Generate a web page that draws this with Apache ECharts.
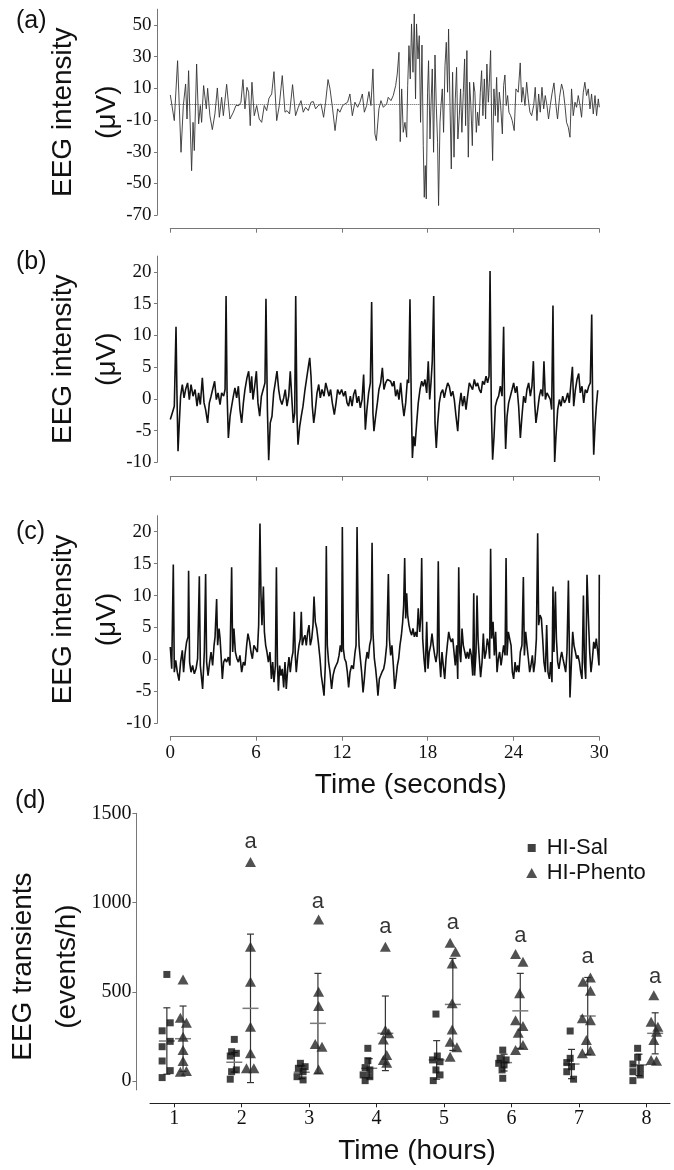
<!DOCTYPE html>
<html><head><meta charset="utf-8">
<script src="https://cdn.jsdelivr.net/npm/echarts@6/dist/echarts.min.js"></script>
<style>html,body{margin:0;padding:0;background:#fff}#chart{width:674px;height:1170px}</style>
</head><body><div id="chart"></div>
<script>
// ---------- DATA ----------
// Panel (a): EEG trace, [time (s), intensity (µV)]
const traceA = [
[0.00,5.9],[0.28,-10.3],[0.51,27.5],[0.63,27.5],[0.75,-30.3],[0.91,-0.8],[1.07,12.8],[1.17,-9.3],[1.28,21.2],[1.49,-41.9],[1.59,-11.4],[1.68,-29.2],[1.84,25.4],[1.98,-12.4],[2.10,-0.8],[2.19,-11.4],[2.33,11.8],[2.42,12.2],[2.52,-2.9],[2.61,10.1],[2.77,-7.2],[2.94,-16.0],[3.12,-6.1],[3.29,10.3],[3.43,-8.2],[3.59,4.4],[3.71,-7.2],[3.94,12.6],[4.17,-9.3],[4.41,-5.0],[4.59,-0.8],[4.80,-0.8],[4.94,1.3],[5.08,15.6],[5.22,-2.9],[5.36,10.7],[5.48,7.6],[5.59,-13.5],[5.71,13.9],[5.87,-7.2],[6.04,-0.8],[6.22,-9.3],[6.39,-11.4],[6.57,-0.8],[6.74,-4.0],[6.90,3.8],[7.09,6.5],[7.25,20.6],[7.44,-10.3],[7.62,-0.8],[7.83,18.1],[8.02,-5.0],[8.16,-4.0],[8.34,-6.1],[8.55,12.4],[8.76,-7.2],[8.95,-1.9],[9.14,2.3],[9.30,-5.0],[9.46,-1.9],[9.65,-4.0],[9.84,1.3],[10.00,1.7],[10.16,-2.9],[10.35,-0.8],[10.54,0.2],[10.72,-8.2],[10.86,1.3],[11.03,15.6],[11.17,9.7],[11.35,-2.9],[11.52,-16.6],[11.70,-2.9],[11.86,-5.0],[12.05,-0.8],[12.21,0.2],[12.40,1.3],[12.56,6.5],[12.73,-7.2],[12.91,1.3],[13.10,-1.9],[13.26,1.3],[13.43,6.5],[13.57,-5.0],[13.73,-0.8],[13.89,8.0],[14.03,-0.8],[14.17,22.3],[14.31,-18.7],[14.41,-22.9],[14.59,-2.9],[14.73,2.3],[14.90,-1.9],
[15.01,-2.9],[15.13,0.2],[15.24,4.4],[15.43,2.3],[15.59,5.5],[15.76,11.8],[15.87,19.1],[15.99,32.8],[16.08,-23.6],[16.18,9.7],[16.29,-17.7],[16.41,-11.4],[16.53,-20.8],[16.60,11.8],[16.69,37.0],[16.78,16.0],[16.87,50.7],[16.97,20.2],[17.06,57.0],[17.15,3.4],[17.22,50.7],[17.32,28.6],[17.41,43.3],[17.50,-11.4],[17.60,37.4],[17.69,-26.1],[17.76,-58.7],[17.83,-38.7],[17.90,-59.7],[17.99,7.6],[18.06,27.5],[18.16,-21.9],[18.23,-0.8],[18.32,22.3],[18.41,-30.3],[18.51,31.1],[18.60,-0.8],[18.69,-24.0],[18.76,-63.9],[18.86,-11.4],[18.93,-0.8],[19.02,9.7],[19.11,-17.7],[19.21,24.4],[19.30,39.1],[19.39,7.6],[19.46,47.5],[19.56,-0.8],[19.65,-40.8],[19.74,20.2],[19.84,-33.4],[19.93,3.4],[20.02,23.3],[20.11,-21.9],[20.21,-7.2],[20.30,9.7],[20.39,-17.7],[20.49,7.6],[20.58,28.6],[20.65,-13.5],[20.74,33.9],[20.84,-33.4],[20.93,13.9],[21.02,-0.8],[21.12,-26.1],[21.21,13.9],[21.30,7.6],[21.40,-17.7],[21.49,-5.0],[21.58,-13.5],[21.68,7.6],[21.77,21.2],[21.86,-7.2],[21.96,16.0],[22.05,-9.3],[22.14,25.4],[22.24,1.3],[22.31,13.9],[22.40,33.9],[22.47,-9.3],[22.54,-35.5],[22.63,9.7],[22.73,-7.2],[22.82,17.0],[22.91,-11.4],[23.01,7.6],[23.10,-0.8],[23.22,-18.7],[23.31,11.8],[23.40,18.5],[23.49,-0.8],[23.59,5.5],[23.68,-5.0],[23.80,-7.2],[23.91,-10.3],[24.05,-16.6],[24.17,9.7],[24.33,7.6],[24.47,26.1],[24.57,1.3],[24.66,10.7],[24.80,-0.8],[24.92,13.9],[25.03,3.4],[25.15,-5.0],[25.27,-7.2],[25.41,-0.8],[25.52,10.7],[25.64,-10.3],[25.76,6.5],[25.87,-5.0],[25.99,10.7],[26.11,-2.9],[26.22,5.5],[26.34,-0.8],[26.45,-9.3],[26.57,-0.8],[26.69,6.5],[26.83,13.5],[26.97,-0.8],[27.08,-9.3],[27.22,4.4],[27.36,12.8],[27.48,8.6],[27.60,-0.8],[27.71,-11.4],[27.83,-14.5],[27.95,-20.8],[28.06,9.7],[28.18,-7.2],[28.30,1.3],[28.41,-1.9],[28.53,5.5],[28.65,-0.8],[28.76,-8.2],[28.88,7.6],[28.99,13.9],[29.11,5.5],[29.23,9.7],[29.35,-2.9],[29.46,6.5],[29.58,-6.1],[29.70,5.5],[29.81,-7.2],[29.93,3.4],[30.00,-1.9]
];
// Panel (b)
const traceB = [
[0.00,-3.26],[0.14,-2.22],[0.28,-1.16],[0.40,11.36],[0.46,1.47],[0.54,-8.27],[0.63,-3.79],[0.72,0.42],[0.84,2.26],[0.96,0.15],[1.07,1.47],[1.21,2.52],[1.33,-0.11],[1.45,2.26],[1.59,0.42],[1.73,1.47],[1.87,-1.16],[1.98,0.94],[2.10,-0.90],[2.24,3.31],[2.36,-0.64],[2.47,-1.69],[2.61,-3.79],[2.73,-0.64],[2.85,0.42],[2.96,1.47],[3.10,2.78],[3.22,-0.11],[3.34,0.94],[3.48,-0.90],[3.59,0.94],[3.73,0.42],[3.83,1.47],[3.90,16.2],[3.97,0.94],[4.06,-6.16],[4.18,-2.74],[4.29,-1.16],[4.41,0.42],[4.52,1.73],[4.64,0.15],[4.76,1.99],[4.87,-1.69],[4.99,-3.79],[5.11,-0.64],[5.22,1.47],[5.36,3.31],[5.48,4.36],[5.60,0.94],[5.69,3.57],[5.78,-0.11],[5.90,1.99],[6.02,4.36],[6.13,-0.64],[6.25,-2.74],[6.37,0.42],[6.48,0.15],[6.62,2.52],[6.69,15.78],[6.79,-1.69],[6.88,-9.69],[6.99,-3.79],[7.11,-2.74],[7.23,0.94],[7.34,2.52],[7.46,4.36],[7.58,1.47],[7.69,-0.11],[7.81,-0.90],[7.93,0.15],[8.04,1.47],[8.16,-1.16],[8.28,0.42],[8.39,4.36],[8.49,0.42],[8.60,-3.79],[8.70,-2.22],[8.77,16.2],[8.86,-2.74],[8.93,-7.22],[9.05,-4.32],[9.16,-2.74],[9.28,-1.16],[9.42,1.47],[9.54,3.31],[9.66,5.15],[9.75,6.47],[9.84,3.57],[9.93,-1.16],[10.03,-3.79],[10.12,-2.22],[10.26,0.94],[10.38,2.26],[10.49,0.15],[10.61,1.47],[10.75,0.42],[10.87,2.52],[10.98,2.78],[11.10,0.42],[11.21,1.47],[11.33,-0.64],[11.47,-2.48],[11.59,-0.64],[11.70,1.47],[11.84,0.68],[11.98,1.47],[12.12,0.42],[12.24,1.21],[12.36,-0.64],[12.47,-1.16],[12.59,0.42],[12.71,-1.16],[12.82,0.68],[12.94,1.47],[13.06,-0.64],[13.17,0.42],[13.29,-1.43],[13.41,-0.11],[13.52,3.84],[13.64,-4.85],[13.75,-1.69],[13.87,0.94],[13.99,2.52],[14.08,15.26],[14.17,-2.22],[14.24,-5.11],[14.36,-2.74],[14.48,-0.64],[14.59,1.47],[14.71,2.52],[14.83,4.89],[14.94,1.47],[15.06,2.52],[15.18,3.05],[15.29,3.31],[15.41,2.78],[15.53,1.99],[15.64,2.78],[15.76,0.42],[15.88,1.47],[15.99,-0.11],[16.11,2.52],[16.23,-0.64],[16.34,-2.74],[16.46,-0.64],[16.58,3.05],[16.67,2.52],[16.76,15.68],[16.86,-1.69],[16.93,-9.32],[17.02,-5.90],[17.11,-7.47],[17.23,-3.79],[17.34,-0.64],[17.46,1.47],[17.58,2.78],[17.69,1.99],[17.81,3.05],[17.93,0.94],[18.04,5.94],[18.14,-0.11],[18.23,2.52],[18.32,5.94],[18.42,16.2],[18.51,-3.79],[18.60,-7.74],[18.70,-3.79],[18.81,-0.64],[18.93,0.94],[19.05,1.47],[19.16,0.15],[19.28,1.47],[19.40,2.52],[19.51,1.99],[19.63,0.42],[19.75,1.21],[19.86,-0.11],[19.98,-2.74],[20.10,-5.11],[20.21,-1.16],[20.33,0.94],[20.44,-1.16],[20.56,0.42],[20.68,-1.69],[20.79,0.42],[20.91,2.52],[21.03,2.78],[21.14,1.47],[21.26,3.05],[21.38,1.99],[21.49,2.52],[21.61,1.47],[21.73,0.94],[21.84,2.78],[21.96,2.26],[22.08,3.57],[22.19,2.52],[22.29,3.57],[22.36,20.15],[22.45,-1.69],[22.54,-9.58],[22.64,-5.90],[22.73,-1.16],[22.85,-0.11],[22.96,0.42],[23.08,1.99],[23.20,0.42],[23.31,11.36],[23.38,-1.69],[23.45,-7.90],[23.55,-2.74],[23.66,-0.64],[23.78,0.42],[23.90,1.47],[24.01,2.52],[24.13,0.94],[24.24,1.99],[24.36,-1.16],[24.48,-6.16],[24.59,-2.74],[24.71,0.42],[24.83,-0.64],[24.94,1.47],[25.06,2.52],[25.18,0.42],[25.29,1.99],[25.39,5.94],[25.48,-0.64],[25.57,-3.79],[25.69,-1.69],[25.81,0.42],[25.92,1.47],[26.04,0.42],[26.13,5.94],[26.23,-0.11],[26.34,0.94],[26.46,0.42],[26.58,-0.11],[26.67,-1.69],[26.76,14.73],[26.83,-2.74],[26.88,-9.95],[26.97,-5.90],[27.09,-1.69],[27.21,-0.11],[27.32,-1.16],[27.44,0.42],[27.56,-0.64],[27.67,-0.11],[27.79,0.94],[27.90,-0.64],[28.02,2.52],[28.12,5.05],[28.21,-1.16],[28.33,1.47],[28.44,3.05],[28.56,3.99],[28.67,0.94],[28.79,1.99],[28.91,-0.64],[29.02,1.47],[29.14,0.94],[29.26,1.99],[29.37,2.52],[29.47,13.31],[29.54,-1.69],[29.61,-8.79],[29.70,-4.32],[29.79,-1.16],[29.89,1.36]
];
// Panel (c)
const traceC = [
[0.00,1.95],[0.10,-1.47],[0.21,14.84],[0.28,-2.0],[0.38,-0.16],[0.49,-2.0],[0.61,-3.32],[0.72,-0.42],[0.84,1.42],[0.93,-2.0],[1.03,0.89],[1.14,2.74],[1.24,3.53],[1.28,13.89],[1.35,-0.42],[1.45,-2.0],[1.56,-0.95],[1.68,-2.26],[1.80,-1.47],[1.91,0.11],[2.03,13.0],[2.10,-0.95],[2.19,-3.05],[2.26,-4.63],[2.38,1.16],[2.47,13.37],[2.54,-0.42],[2.64,-2.53],[2.75,-0.42],[2.85,1.16],[2.96,-0.95],[3.06,2.21],[3.13,3.53],[3.24,9.47],[3.31,2.21],[3.41,4.84],[3.48,3.26],[3.55,0.63],[3.64,-3.05],[3.73,-0.42],[3.83,0.11],[3.94,-0.42],[4.06,0.37],[4.17,-0.95],[4.29,14.42],[4.36,1.16],[4.45,4.84],[4.55,1.16],[4.66,0.11],[4.76,-0.42],[4.87,0.63],[4.99,-2.0],[5.11,-0.42],[5.22,-0.95],[5.34,2.21],[5.43,4.05],[5.55,2.74],[5.64,1.16],[5.74,0.11],[5.85,2.21],[5.97,2.47],[6.09,1.16],[6.18,5.37],[6.27,21.26],[6.34,10.11],[6.41,5.37],[6.51,11.42],[6.58,4.32],[6.67,2.21],[6.76,1.16],[6.86,-0.42],[6.97,1.16],[7.07,-3.05],[7.16,-0.42],[7.25,-3.58],[7.35,-0.95],[7.42,14.42],[7.49,-0.42],[7.56,-4.89],[7.65,-0.95],[7.74,-2.53],[7.83,-1.47],[7.93,-4.37],[8.02,-0.42],[8.11,-4.63],[8.21,-1.47],[8.30,0.37],[8.39,-2.0],[8.49,0.11],[8.58,1.16],[8.67,7.47],[8.74,0.63],[8.81,-2.0],[8.91,0.63],[9.00,2.21],[9.09,3.26],[9.16,7.47],[9.23,2.21],[9.33,3.26],[9.42,3.79],[9.51,2.21],[9.61,4.32],[9.70,5.37],[9.79,2.21],[9.89,3.26],[9.98,5.37],[10.05,9.84],[10.14,5.89],[10.24,4.84],[10.35,2.74],[10.47,0.11],[10.56,-2.53],[10.66,-4.11],[10.75,-5.68],[10.84,-0.95],[10.91,17.74],[10.98,2.21],[11.07,-0.42],[11.17,-2.0],[11.28,-4.63],[11.38,-2.53],[11.49,-1.47],[11.59,-0.95],[11.70,-0.42],[11.80,0.63],[11.89,2.21],[11.98,1.16],[12.03,20.74],[12.10,1.68],[12.19,0.11],[12.29,-0.42],[12.38,-2.0],[12.47,-4.37],[12.57,-2.0],[12.68,-0.95],[12.80,-1.47],[12.92,1.16],[12.99,2.21],[13.06,20.74],[13.13,7.47],[13.20,2.21],[13.29,0.11],[13.38,-2.0],[13.48,-5.16],[13.57,-3.05],[13.66,-0.42],[13.76,1.16],[13.85,0.11],[13.94,2.21],[14.04,3.26],[14.11,18.26],[14.17,4.32],[14.27,0.11],[14.36,-1.47],[14.45,-3.58],[14.52,-5.68],[14.62,-3.05],[14.71,-2.53],[14.80,-2.0],[14.92,-1.47],[15.01,-0.42],[15.13,2.21],[15.25,13.37],[15.32,3.26],[15.41,0.63],[15.50,2.21],[15.60,-0.95],[15.69,-4.63],[15.78,-3.05],[15.88,-0.95],[15.97,0.11],[16.06,2.21],[16.16,3.79],[16.25,5.89],[16.32,8.53],[16.39,15.89],[16.46,6.42],[16.53,10.37],[16.60,6.95],[16.69,5.37],[16.79,4.32],[16.88,3.79],[16.97,4.84],[17.07,3.53],[17.16,4.32],[17.25,3.53],[17.34,8.0],[17.44,4.32],[17.51,6.42],[17.58,15.89],[17.65,3.26],[17.74,0.11],[17.83,-2.0],[17.93,5.89],[18.02,-1.47],[18.11,1.16],[18.21,2.21],[18.30,4.05],[18.39,2.21],[18.49,0.63],[18.58,-0.42],[18.67,1.16],[18.74,15.37],[18.81,0.63],[18.91,-2.79],[19.00,1.16],[19.09,-0.95],[19.19,-3.05],[19.28,0.11],[19.37,2.21],[19.47,4.32],[19.56,3.26],[19.65,2.74],[19.75,3.26],[19.84,1.16],[19.93,-0.95],[20.03,2.21],[20.10,-3.05],[20.17,14.42],[20.24,1.16],[20.31,-0.42],[20.40,4.84],[20.49,2.21],[20.59,1.16],[20.68,0.11],[20.77,1.16],[20.87,0.11],[20.96,1.68],[21.05,0.63],[21.15,-2.53],[21.22,10.37],[21.28,-2.53],[21.38,1.16],[21.45,10.0],[21.52,3.26],[21.61,0.11],[21.70,-2.79],[21.80,-0.42],[21.89,4.05],[21.98,0.11],[22.08,1.16],[22.17,3.26],[22.26,2.21],[22.33,0.11],[22.40,17.32],[22.47,3.26],[22.57,5.89],[22.66,0.63],[22.75,4.32],[22.85,-2.0],[22.94,0.11],[23.03,1.16],[23.13,-0.95],[23.22,0.63],[23.31,2.21],[23.41,0.63],[23.48,15.89],[23.55,0.63],[23.64,4.32],[23.73,3.26],[23.83,2.21],[23.92,-2.0],[24.01,-3.05],[24.11,-0.42],[24.20,-2.0],[24.29,-0.95],[24.38,-2.0],[24.48,1.16],[24.59,2.21],[24.69,12.89],[24.76,0.63],[24.85,4.32],[24.94,2.21],[25.04,0.11],[25.13,-2.0],[25.22,-0.95],[25.32,0.63],[25.41,-2.0],[25.50,-0.42],[25.60,3.26],[25.69,19.74],[25.76,5.37],[25.85,6.95],[25.95,6.42],[26.04,3.26],[26.13,-0.42],[26.23,-2.0],[26.32,5.37],[26.41,-2.0],[26.51,-3.05],[26.60,-0.42],[26.69,-3.58],[26.76,11.42],[26.83,1.16],[26.93,10.63],[27.00,3.26],[27.09,-0.42],[27.18,-1.47],[27.28,0.11],[27.37,1.16],[27.46,0.11],[27.56,-0.95],[27.65,-2.0],[27.74,1.16],[27.84,12.37],[27.91,1.16],[27.95,-5.95],[28.05,-0.42],[28.14,4.32],[28.23,2.21],[28.33,1.16],[28.42,0.11],[28.51,0.63],[28.61,-0.42],[28.70,-2.0],[28.79,-3.05],[28.89,10.0],[28.96,-0.42],[29.05,-3.05],[29.14,13.26],[29.23,6.95],[29.33,1.16],[29.42,-2.0],[29.52,0.11],[29.61,2.74],[29.70,1.68],[29.79,3.26],[29.89,1.16],[29.98,-0.95],[30.00,13.26]
];
const timeTicks = [0, 6, 12, 18, 24, 30];
const eegTicksA = [-70, -50, -30, -10, 10, 30, 50];
const eegTicksBC = [-10, -5, 0, 5, 10, 15, 20];

// Panel (d): individual animals [hour position, events/h]
const hours = [1, 2, 3, 4, 5, 6, 7, 8];
const salPoints = [
[0.89,597],[0.94,326],[0.82,281],[0.94,222],[0.82,192],[0.82,112],[0.94,58],[0.82,19],
[1.89,233],[1.85,164],[1.92,155],[1.83,140],[1.92,62],[1.85,52],[1.83,10],
[2.87,99],[2.94,80],[2.84,71],[2.91,52],[2.82,24],[2.91,6],
[3.87,183],[3.87,114],[3.83,75],[3.90,62],[3.80,34],[3.90,24],[3.83,2],
[4.88,375],[4.90,140],[4.83,118],[4.94,108],[4.88,62],[4.94,34],[4.84,2],
[5.87,173],[5.83,127],[5.92,118],[5.81,99],[5.89,90],[5.86,62],[5.87,15],
[6.87,280],[6.87,127],[6.82,103],[6.89,80],[6.82,52],[6.92,10],
[7.87,183],[7.87,133],[7.80,95],[7.91,71],[7.80,52],[7.91,34],[7.80,2]
];
const phentoPoints = [
[1.13,569],[1.09,354],[1.18,326],[1.13,248],[1.13,173],[1.13,112],[1.09,52],[1.18,56],
[2.13,1227],[2.13,752],[2.13,556],[2.13,304],[2.13,155],[2.07,71],[2.18,71],
[3.14,905],[3.14,500],[3.14,420],[3.09,207],[3.19,192],[3.14,65],
[4.13,752],[4.13,285],[4.18,267],[4.10,233],[4.15,145],[4.10,118],[4.15,102],
[5.09,774],[5.17,724],[5.12,659],[5.12,435],[5.12,289],[5.09,220],[5.19,189],[5.09,136],
[6.06,711],[6.17,668],[6.12,491],[6.06,341],[6.17,308],[6.10,270],[6.17,201],[6.06,173],
[7.06,556],[7.17,580],[7.17,505],[7.05,351],[7.17,341],[7.11,229],[7.05,155],[7.17,170],
[8.11,481],[8.07,332],[8.17,304],[8.15,276],[8.11,229],[8.07,118],[8.15,114]
];
const salMean = [224, 105, 49, 71, 118, 103, 95, 90];
const salSD = [186, 55, 36, 54, 108, 47, 82, 60];
const phentoMean = [237, 407, 323, 267, 429, 393, 364, 267];
const phentoSD = [183, 416, 280, 209, 258, 210, 216, 115];
const sigHours = [2, 3, 4, 5, 6, 7, 8];
const sigLevel = [1341, 1005, 861, 887, 812, 693, 581];
const transientTicks = [0, 500, 1000, 1500];

// ---------- CHART ----------
const SERIF = "'Liberation Serif','Times New Roman',serif";
const SANS = "'Liberation Sans',Arial,sans-serif";
const AX = '#777';
const TXT = '#111';
const plain = (v) => String(v);

function eegY(gi, min, max, ticks) {
  return {
    type: 'value', gridIndex: gi, min: min, max: max, offset: 13.3,
    axisLine: {show: true, onZero: false, lineStyle: {color: AX, width: 1}},
    axisTick: {show: true, length: 3, customValues: ticks, lineStyle: {color: AX}},
    axisLabel: {customValues: ticks, formatter: plain, margin: 5.5, color: TXT, fontFamily: SERIF, fontSize: 19},
    splitLine: {show: false},
    name: 'EEG intensity\n(\u03bcV)', nameLocation: 'middle', nameGap: 28, nameRotate: 90, nameMoveOverlap: false,
    nameTextStyle: {fontFamily: SANS, fontSize: 28, lineHeight: 44, color: TXT}
  };
}
function timeX(gi, showLabels, off) {
  const ax = {
    type: 'value', gridIndex: gi, min: 0, max: 30, interval: 6, offset: off,
    axisLine: {show: true, onZero: false, lineStyle: {color: AX, width: 1}},
    axisTick: {show: true, length: 4, lineStyle: {color: AX}},
    axisLabel: {show: showLabels, margin: 7, color: TXT, fontFamily: SERIF, fontSize: 19},
    splitLine: {show: false}
  };
  if (showLabels) {
    ax.name = 'Time (seconds)';
    ax.nameLocation = 'middle';
    ax.nameGap = 35;
    ax.nameMoveOverlap = false;
    ax.nameTextStyle = {fontFamily: SANS, fontSize: 28, color: TXT, padding: [0, 0, 0, 52]};
  }
  return ax;
}
function lineSeries(idx, data, width, color, extra) {
  return Object.assign({
    type: 'line', xAxisIndex: idx, yAxisIndex: idx, data: data,
    showSymbol: false, symbol: 'none', silent: true,
    lineStyle: {width: width, color: color}
  }, extra || {});
}
function errRender(params, api) {
  const x = api.value(0), m = api.value(1), sd = api.value(2);
  const pt = api.coord([x, m + sd]), pb = api.coord([x, m - sd]), pm = api.coord([x, m]);
  const cap = 3.5, half = 8;
  const dark = {stroke: '#333', lineWidth: 1.2};
  return {type: 'group', children: [
    {type: 'line', shape: {x1: pt[0], y1: pt[1], x2: pb[0], y2: pb[1]}, style: dark},
    {type: 'line', shape: {x1: pt[0] - cap, y1: pt[1], x2: pt[0] + cap, y2: pt[1]}, style: dark},
    {type: 'line', shape: {x1: pb[0] - cap, y1: pb[1], x2: pb[0] + cap, y2: pb[1]}, style: dark},
    {type: 'line', shape: {x1: pm[0] - half, y1: pm[1], x2: pm[0] + half, y2: pm[1]}, style: {stroke: '#7a7a7a', lineWidth: 1.5}}
  ]};
}
const SAL_DODGE = -0.11, PHENTO_DODGE = 0.13;
const salErr = hours.map((h, i) => [h + SAL_DODGE, salMean[i], salSD[i]]);
const phentoErr = hours.map((h, i) => [h + PHENTO_DODGE, phentoMean[i], phentoSD[i]]);
const sigData = sigHours.map((h, i) => [h + PHENTO_DODGE, sigLevel[i]]);

const panelTitle = (t, left, top) => ({text: t, left: left, top: top, padding: 0,
  textStyle: {fontFamily: SANS, fontSize: 25, fontWeight: 'normal', color: TXT}});
const legendText = (pad) => ({fontFamily: SANS, fontSize: 22, color: TXT, padding: [0, 0, 0, pad]});

const option = {
  animation: false,
  backgroundColor: '#fff',
  title: [panelTitle('(a)', 16, 9), panelTitle('(b)', 16, 250), panelTitle('(c)', 16, 519.5), panelTitle('(d)', 15, 788.5)],
  legend: [
    {data: ['HI-Sal'], left: 527.7, top: 837, padding: 0, itemWidth: 8, itemHeight: 8, icon: 'rect', selectedMode: false, textStyle: legendText(6)},
    {data: ['HI-Phento'], left: 526.2, top: 862, padding: 0, itemWidth: 11, itemHeight: 10, icon: 'triangle', selectedMode: false, textStyle: legendText(4.5)}
  ],
  grid: [
    {left: 170.3, width: 429, top: 9.2, height: 206, outerBoundsMode: 'none'},
    {left: 170.3, width: 429, top: 256.1, height: 206.2, outerBoundsMode: 'none'},
    {left: 170.3, width: 429, top: 515.7, height: 207.6, outerBoundsMode: 'none'},
    {left: 150, width: 520, top: 813.3, height: 276.6, outerBoundsMode: 'none'}
  ],
  xAxis: [
    timeX(0, false, 13.5),
    timeX(1, false, 14.4),
    timeX(2, true, 13.4),
    {
      type: 'value', gridIndex: 3, min: 0.64, max: 8.35, offset: 13.4,
      axisLine: {show: true, onZero: false, lineStyle: {color: '#222', width: 1}},
      axisTick: {show: true, length: 4, customValues: hours, lineStyle: {color: '#222'}},
      axisLabel: {customValues: hours, formatter: plain, margin: 5, color: TXT, fontFamily: SERIF, fontSize: 20},
      splitLine: {show: false},
      name: 'Time (hours)', nameLocation: 'middle', nameGap: 34, nameMoveOverlap: false,
      nameTextStyle: {fontFamily: SANS, fontSize: 28, color: TXT, padding: [0, 0, 0, 14]}
    }
  ],
  yAxis: [
    eegY(0, -70, 60, eegTicksA),
    eegY(1, -10, 22.5, eegTicksBC),
    eegY(2, -10, 22.5, eegTicksBC),
    {
      type: 'value', gridIndex: 3, min: -50, max: 1500, offset: 13.6,
      axisLine: {show: true, onZero: false, lineStyle: {color: AX, width: 1}},
      axisTick: {show: true, length: 4, customValues: transientTicks, lineStyle: {color: AX}},
      axisLabel: {customValues: transientTicks, formatter: plain, margin: 5, color: TXT, fontFamily: SERIF, fontSize: 20},
      splitLine: {show: false},
      name: 'EEG transients\n(events/h)', nameLocation: 'middle', nameGap: 47, nameRotate: 90, nameMoveOverlap: false,
      nameTextStyle: {fontFamily: SANS, fontSize: 28, lineHeight: 44, color: TXT, padding: [0, 30, 0, 0]}
    }
  ],
  series: [
    lineSeries(0, traceA, 0.9, '#333', {
      markLine: {silent: true, symbol: 'none', label: {show: false},
        lineStyle: {type: 'dotted', color: '#555', width: 1}, data: [{yAxis: 0}]}
    }),
    lineSeries(1, traceB, 1.6, '#111'),
    lineSeries(2, traceC, 1.6, '#111'),
    {type: 'custom', xAxisIndex: 3, yAxisIndex: 3, data: salErr, renderItem: errRender, z: 2, silent: true},
    {type: 'custom', xAxisIndex: 3, yAxisIndex: 3, data: phentoErr, renderItem: errRender, z: 2, silent: true},
    {name: 'HI-Sal', type: 'scatter', xAxisIndex: 3, yAxisIndex: 3, data: salPoints,
      symbol: 'rect', symbolSize: 7, itemStyle: {color: '#111'}, z: 3},
    {name: 'HI-Phento', type: 'scatter', xAxisIndex: 3, yAxisIndex: 3, data: phentoPoints,
      symbol: 'triangle', symbolSize: [11, 10], itemStyle: {color: '#262626'}, z: 4},
    {type: 'scatter', xAxisIndex: 3, yAxisIndex: 3, data: sigData, symbolSize: 0.01,
      itemStyle: {color: 'rgba(0,0,0,0)'}, silent: true, z: 5,
      label: {show: true, position: 'inside', formatter: 'a', fontFamily: SANS, fontSize: 22, color: '#000', textBorderWidth: 0}}
  ]
};
const chart = echarts.init(document.getElementById('chart'), null, {renderer: 'canvas'});
chart.setOption(option);
</script>
</body></html>
